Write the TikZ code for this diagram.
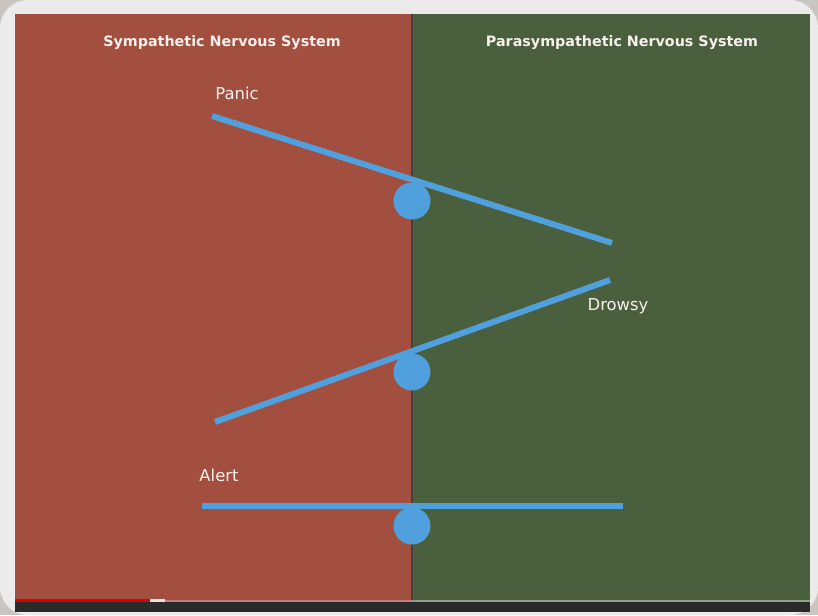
\documentclass[tikz,border=0pt]{standalone}
\usepackage{fontspec}
\setmainfont{DejaVu Sans}
\definecolor{redpanel}{HTML}{A24F3F}
\definecolor{greenpanel}{HTML}{4A5F3E}
\definecolor{bluebar}{HTML}{4FA0DC}
\definecolor{frame}{HTML}{EBEBEB}
\definecolor{corner}{HTML}{C9C5C1}
\definecolor{darkbar}{HTML}{2A2A2A}
\definecolor{textwhite}{HTML}{F8F0EC}
\tikzset{
  bar/.style={draw=bluebar, line width=6pt},
  pivot/.style={circle, fill=bluebar, minimum size=37pt, inner sep=0pt},
  title/.style={text=textwhite, font=\bfseries\fontsize{14.3}{16}\selectfont},
  word/.style={text=textwhite, font=\fontsize{16.4}{18}\selectfont},
}
\begin{document}
\begin{tikzpicture}[x=1pt,y=-1pt]
\useasboundingbox (0,0) rectangle (818,615);
\fill[corner] (0,0) rectangle (818,615);
\fill[frame, rounded corners=28pt] (0,0) rectangle (818,615);
\fill[redpanel] (15,14) rectangle (412,601);
\fill[greenpanel] (412,14) rectangle (810,601);
\draw[black!75, line width=1.5pt] (412,14) -- (412,601);
\draw[black!60, line width=0.8pt] (15.5,14) -- (15.5,601);
\fill[darkbar] (15,601) rectangle (810,612);
\fill[red!85!black] (15,599) rectangle (150,602);
\fill[white!80!gray] (150,599) rectangle (165,602);
\fill[greenpanel!60!white] (412,599.5) rectangle (810,601.5);
\fill[redpanel!70!white] (165,599.5) rectangle (412,601.5);

\node[title] (t1) at (222,43) {Sympathetic Nervous System};
\node[title] (t2) at (622,43) {Parasympathetic Nervous System};

\node[pivot] (p1) at (412,201) {};
\node[pivot] (p2) at (412,372) {};
\node[pivot] (p3) at (412,526) {};

\coordinate (a1) at (212,116);
\coordinate (b1) at (612,243);
\coordinate (a2) at (215,422);
\coordinate (b2) at (610,280);
\coordinate (a3) at (202,506);
\coordinate (b3) at (623,506);
\draw[bar] (a1) -- (b1);
\draw[bar] (a2) -- (b2);
\draw[bar] (a3) -- (b3);

\node[word] (panic) at (237,93) {Panic};
\node[word] (drowsy) at (618,306) {Drowsy};
\node[word] (alert) at (219,475) {Alert};
\end{tikzpicture}
\end{document}
